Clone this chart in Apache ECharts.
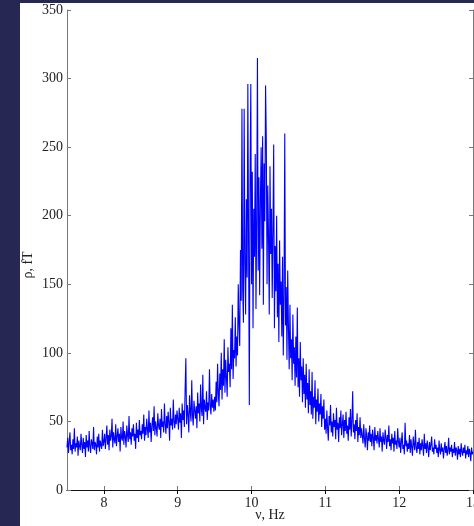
<!DOCTYPE html>
<html>
<head>
<meta charset="utf-8">
<script src="https://cdn.jsdelivr.net/npm/echarts@6/dist/echarts.min.js"></script>
<style>
  html,body{margin:0;padding:0;background:#262752}
  #chart{width:474px;height:526px}
</style>
</head>
<body>
<div id="chart"></div>
<script>
// spectrum, one value every 0.01 Hz starting at 7.50
var freqStart = 7.5, freqStep = 0.01
var seg750 = [31,38,27,35,42,29,33,26,37,30,45,28,34,31,39,25,36,32,29,41,33,27,38,30,35,
  24,40,31,36,28,43,32,27,37,34,30,46,29,35,33,26,39,31,41,28,36,33,30,44,32]
var seg800 = [35,41,30,38,47,33,40,29,44,36,39,52,31,42,37,34,48,32,39,45,35,41,28,46,38,
  36,50,33,43,39,31,47,40,35,54,37,42,33,45,39,48,36,41,30,49,38,44,35,51,40]
var seg850 = [43,37,48,41,55,36,46,40,52,44,38,58,42,49,35,47,53,43,61,40,50,45,39,56,47,
  44,52,38,59,46,50,42,63,48,41,54,45,57,49,36,60,47,52,44,66,50,45,55,48,58]
var seg900 = [52,44,60,49,56,38,63,51,58,46,73,96,48,62,55,42,69,57,50,80,54,47,65,58,52,
  61,45,71,56,63,50,77,59,54,84,48,66,60,57,72,51,64,58,88,62,55,70,60,66,57]
var seg950 = [68,58,79,64,92,70,61,85,73,100,
  66,88,76,110,71,95,82,68,104,86,
  92,75,118,88,135,81,102,96,126,90,
  112,98,150,120,105,175,138,278,146,122,
  278,165,128,212,155,296,178,62,224,296]
var seg1000 = [150,232,118,205,170,245,132,198,315,160,
  228,142,210,250,176,258,135,238,196,295,
  255,150,222,185,128,236,172,205,140,190,
  252,118,178,145,200,126,165,108,182,135,
  152,112,170,98,142,260,120,148,95,160]
var seg1050 = [118,88,135,96,110,80,128,92,104,76,
  112,82,133,75,96,68,108,80,90,64,
  96,70,84,60,92,66,78,56,88,62,
  72,55,86,52,68,60,80,48,66,57,
  74,50,63,55,70,46,61,52,66,44]
var seg1100 = [52,41,58,45,36,54,47,62,42,50,
  39,56,46,51,37,60,44,49,35,53,
  45,58,40,48,55,38,51,43,57,41,
  47,36,53,44,59,39,50,72,42,48,
  37,51,43,56,35,46,40,53,38,45]
var seg1150 = [44,34,48,37,31,45,39,29,42,36,
  47,35,41,32,44,38,29,46,36,40,
  34,43,37,31,45,35,39,28,42,36,
  33,44,38,30,40,35,47,32,37,29,
  41,34,38,28,43,33,36,30,45,35]
var seg1200 = [31,38,27,35,42,30,33,26,49,32,
  36,28,34,30,40,27,37,31,25,39,
  33,29,44,31,27,35,30,38,26,34,
  29,37,32,25,41,30,34,27,36,31,
  24,35,29,33,39,28,31,26,37,30]
var seg1250 = [33,27,31,24,36,29,26,34,28,31,
  23,30,35,27,32,25,29,38,26,31,
  28,33,24,30,27,35,25,31,29,22,
  32,26,30,24,34,28,25,31,27,33,
  23,29,26,32,24,30,27,21,31,26,28]

var xTicks = [8,9,10,11,12,13]

var rho = [].concat(seg750,seg800,seg850,seg900,seg950,seg1000,seg1050,seg1100,seg1150,seg1200,seg1250)
var points = rho.map((v,i)=>[+(freqStart + i*freqStep).toFixed(2), v])

var mychart = echarts.init(document.getElementById('chart'))
var font = '"Liberation Serif", "DejaVu Serif", serif'

// one axis pair carries labels, the other pair only closes the box
var xBase = {
  type:'value', min:7.5, max:13,
  splitLine:{show:false}
}
var yBase = {
  type:'value', min:0, max:350, interval:50,
  splitLine:{show:false}
}

mychart.setOption({
  animation:false,
  backgroundColor:'#262752',
  graphic:[{
    type:'rect', z:-10,
    shape:{x:20,y:3,width:454,height:523},
    style:{fill:'#ffffff'}
  }],
  grid:{left:67,top:10,right:1,bottom:36,containLabel:false,outerBoundsMode:'none'},
  xAxis:[
    Object.assign({}, xBase, {
      position:'bottom',
      name:'ν, Hz', nameLocation:'middle', nameGap:18, nameMoveOverlap:false,
      nameTextStyle:{fontFamily:font,fontSize:14,color:'#222',verticalAlign:'top'},
      axisLine:{lineStyle:{color:'#777',width:1}},
      axisTick:{inside:true,length:4,customValues:xTicks,lineStyle:{color:'#777'}},
      axisLabel:{customValues:xTicks,fontFamily:font,fontSize:14,color:'#222',margin:6,hideOverlap:false}
    }),
    Object.assign({}, xBase, {
      position:'top',
      axisLine:{lineStyle:{color:'#111',width:1}},
      axisTick:{inside:true,length:4,customValues:xTicks,lineStyle:{color:'#111'}},
      axisLabel:{show:false}
    })
  ],
  yAxis:[
    Object.assign({}, yBase, {
      position:'left',
      name:'ρ, fT', nameLocation:'middle', nameGap:32, nameRotate:90, nameMoveOverlap:false,
      nameTextStyle:{fontFamily:font,fontSize:14,color:'#222',padding:[0,30,0,0]},
      axisLine:{show:true,lineStyle:{color:'#777',width:1}},
      axisTick:{show:true,inside:true,length:4,lineStyle:{color:'#777'}},
      axisLabel:{fontFamily:font,fontSize:14,color:'#222',margin:4}
    }),
    Object.assign({}, yBase, {
      position:'right',
      axisLine:{show:true,lineStyle:{color:'#777',width:1}},
      axisTick:{show:true,inside:true,length:4,lineStyle:{color:'#777'}},
      axisLabel:{show:false}
    })
  ],
  series:[{
    type:'line',
    data:points,
    showSymbol:false,
    sampling:null,
    lineStyle:{color:'#0000ff',width:1.1},
    clip:true
  }]
})
</script>
</body>
</html>
